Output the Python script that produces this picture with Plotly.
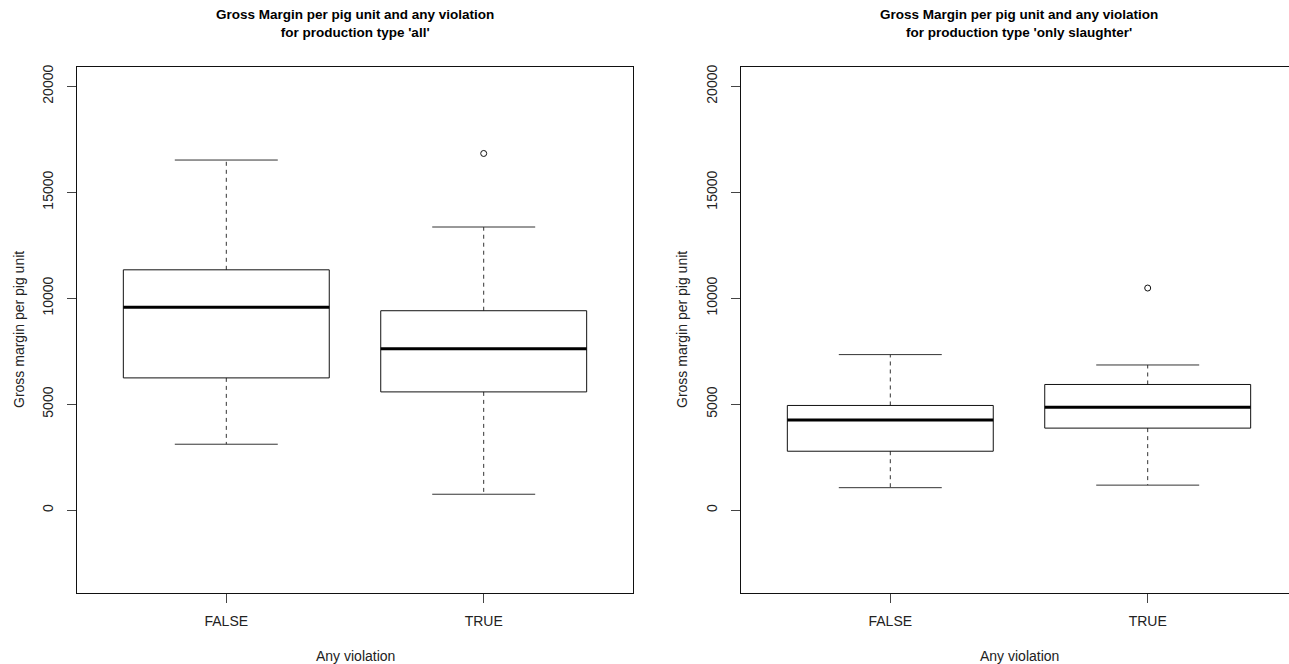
import plotly.graph_objects as go

# ---------------- data ----------------
categories = ["FALSE", "TRUE"]
positions = [1, 2]

# panel 1: production type 'all'
all_low = [3110, 750]
all_q1 = [6240, 5580]
all_med = [9570, 7620]
all_q3 = [11340, 9410]
all_high = [16520, 13360]
all_outliers = [[], [16830]]

# panel 2: production type 'only slaughter'
sl_low = [1060, 1180]
sl_q1 = [2780, 3870]
sl_med = [4250, 4860]
sl_q3 = [4940, 5930]
sl_high = [7340, 6850]
sl_outliers = [[], [10480]]

titles = ["Gross Margin per pig unit and any violation<br>for production type 'all'",
          "Gross Margin per pig unit and any violation<br>for production type 'only slaughter'"]
y_ticks = [0, 5000, 10000, 15000, 20000]
y_label = "Gross margin per pig unit"
x_label = "Any violation"

# ---------------- style ----------------
W, H = 1289, 664
FONT = "Liberation Sans, Arial, sans-serif"
LINE = "#111111"
BOXW = 0.4      # half width of box
STAPLE = 0.2    # half width of staple
YR = [-3920, 20920]
XR = [0.42, 2.58]
px_per_unit = (633 - 77) / (XR[1] - XR[0])

panel_px = [(77, 633), (741, 1289)]

fig = go.Figure()


def add_boxes(xa, ya, low, q1, med, q3, high, outs):
    bx, by, mx, my, wx, wy, sx, sy, ox, oy = [], [], [], [], [], [], [], [], [], []
    for p, lo, a, m, b, hi, o in zip(positions, low, q1, med, q3, high, outs):
        bx += [p - BOXW, p + BOXW, p + BOXW, p - BOXW, p - BOXW, None]
        by += [a, a, b, b, a, None]
        mx += [p - BOXW, p + BOXW, None]
        my += [m, m, None]
        wx += [p, p, None, p, p, None]
        wy += [b, hi, None, a, lo, None]
        sx += [p - STAPLE, p + STAPLE, None, p - STAPLE, p + STAPLE, None]
        sy += [hi, hi, None, lo, lo, None]
        for v in o:
            ox.append(p)
            oy.append(v)
    common = dict(xaxis=xa, yaxis=ya, mode="lines", hoverinfo="skip", showlegend=False)
    fig.add_trace(go.Scatter(x=wx, y=wy, line=dict(color="#333333", width=1, dash="4px,4px"), **common))
    fig.add_trace(go.Scatter(x=sx, y=sy, line=dict(color="#333333", width=1), **common))
    fig.add_trace(go.Scatter(x=bx, y=by, line=dict(color=LINE, width=1), **common))
    fig.add_trace(go.Scatter(x=mx, y=my, line=dict(color="#000000", width=3), **common))
    fig.add_trace(go.Scatter(x=ox, y=oy, xaxis=xa, yaxis=ya, mode="markers", hoverinfo="skip",
                             showlegend=False,
                             marker=dict(symbol="circle-open", size=6, color=LINE,
                                         line=dict(width=1, color=LINE))))


add_boxes("x", "y", all_low, all_q1, all_med, all_q3, all_high, all_outliers)
add_boxes("x2", "y2", sl_low, sl_q1, sl_med, sl_q3, sl_high, sl_outliers)

ytop = 1 - 65 / H
ybot = 1 - 593 / H

axis_common = dict(showgrid=False, zeroline=False, showline=True, linecolor=LINE, linewidth=1,
                   ticks="outside", ticklen=9, tickcolor="#444444", tickwidth=1,
                   tickfont=dict(family=FONT, size=14, color="#222222"))

x2_range = [XR[0], XR[0] + (panel_px[1][1] - panel_px[1][0]) / px_per_unit]

fig.update_layout(
    width=W, height=H,
    margin=dict(l=0, r=0, t=0, b=0),
    paper_bgcolor="white", plot_bgcolor="white",
    xaxis=dict(domain=[panel_px[0][0] / W, panel_px[0][1] / W], range=XR, anchor="y",
               tickvals=positions, ticktext=categories, mirror=True, ticklabelstandoff=6,
               **axis_common),
    yaxis=dict(domain=[ybot, ytop], range=YR, anchor="x", tickvals=y_ticks,
               ticktext=[str(v) for v in y_ticks], tickangle=-90, mirror=True,
               ticklabelstandoff=8, **axis_common),
    xaxis2=dict(domain=[panel_px[1][0] / W, 1.0], range=x2_range, anchor="y2",
                tickvals=positions, ticktext=categories, mirror=True, ticklabelstandoff=6,
                **axis_common),
    yaxis2=dict(domain=[ybot, ytop], range=YR, anchor="x2", tickvals=y_ticks,
                ticktext=[str(v) for v in y_ticks], tickangle=-90, mirror=False,
                ticklabelstandoff=8, **axis_common),
)

annotations = []
centers = [(77 + 633) / 2, (741 + 1297) / 2]
ylab_x = [19, 682]
for i in range(2):
    annotations.append(dict(text="<b>" + titles[i].replace("<br>", "</b><br><b>") + "</b>",
                            xref="paper", yref="paper", x=centers[i] / W, y=1 - 22 / H,
                            xanchor="center", yanchor="middle", showarrow=False,
                            font=dict(family=FONT, size=13.5, color="#000000")))
    annotations.append(dict(text=x_label, xref="paper", yref="paper", x=centers[i] / W,
                            y=1 - 656 / H, xanchor="center", yanchor="middle", showarrow=False,
                            font=dict(family=FONT, size=14, color="#222222")))
    annotations.append(dict(text=y_label, xref="paper", yref="paper", x=ylab_x[i] / W,
                            y=1 - 329 / H, xanchor="center", yanchor="middle", showarrow=False,
                            textangle=-90, font=dict(family=FONT, size=14, color="#222222")))
fig.update_layout(annotations=annotations)

fig.write_html("out.html", config={"displayModeBar": False},
               post_script="document.body.style.margin='0';")
